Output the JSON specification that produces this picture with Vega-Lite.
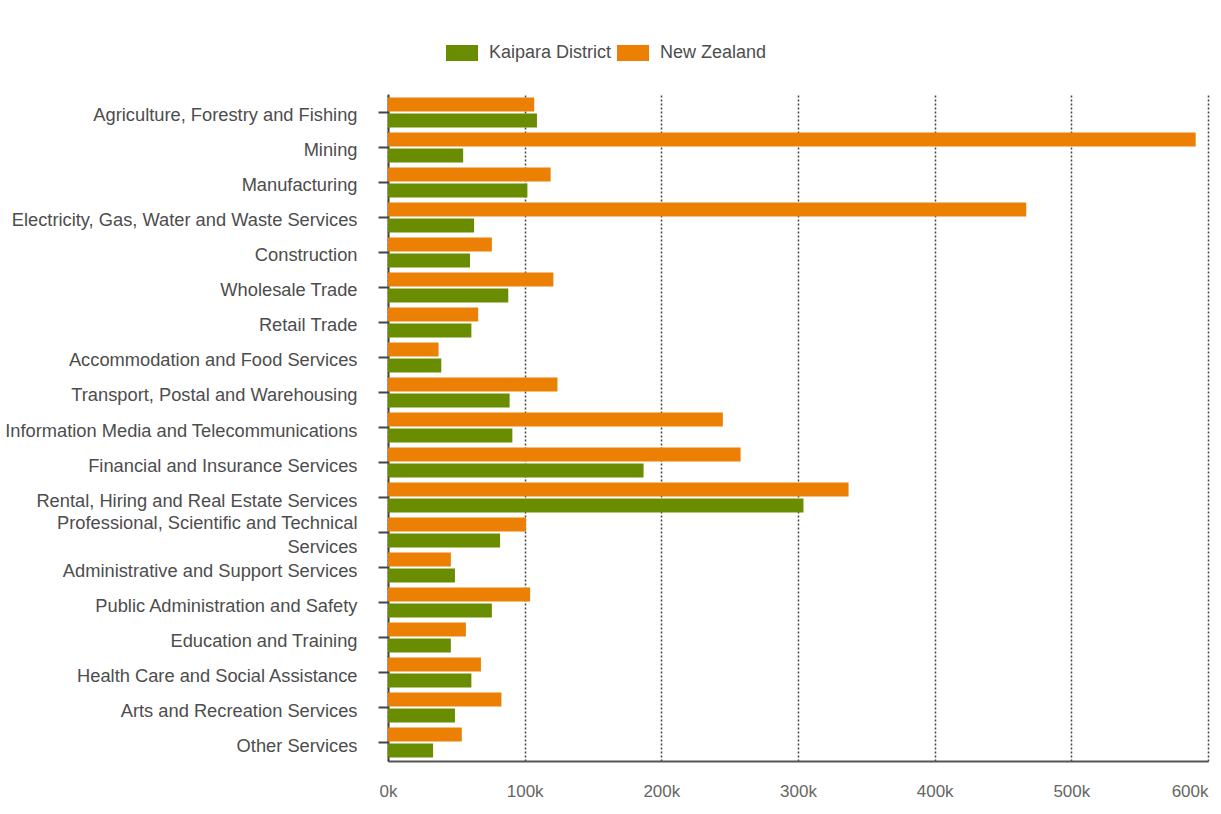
{
  "$schema": "https://vega.github.io/schema/vega-lite/v6.json",
  "autosize": "none",
  "width": 820,
  "height": 667,
  "padding": {"left": 388, "top": 94, "right": 13, "bottom": 53},
  "background": "white",
  "config": {
    "font": "Liberation Sans",
    "view": {"stroke": null}
  },
  "data": {
    "values": [
      {"industry": "Agriculture, Forestry and Fishing", "area": "New Zealand", "value": 107000},
      {"industry": "Agriculture, Forestry and Fishing", "area": "Kaipara District", "value": 109000},
      {"industry": "Mining", "area": "New Zealand", "value": 591000},
      {"industry": "Mining", "area": "Kaipara District", "value": 55000},
      {"industry": "Manufacturing", "area": "New Zealand", "value": 119000},
      {"industry": "Manufacturing", "area": "Kaipara District", "value": 102000},
      {"industry": "Electricity, Gas, Water and Waste Services", "area": "New Zealand", "value": 467000},
      {"industry": "Electricity, Gas, Water and Waste Services", "area": "Kaipara District", "value": 63000},
      {"industry": "Construction", "area": "New Zealand", "value": 76000},
      {"industry": "Construction", "area": "Kaipara District", "value": 60000},
      {"industry": "Wholesale Trade", "area": "New Zealand", "value": 121000},
      {"industry": "Wholesale Trade", "area": "Kaipara District", "value": 88000},
      {"industry": "Retail Trade", "area": "New Zealand", "value": 66000},
      {"industry": "Retail Trade", "area": "Kaipara District", "value": 61000},
      {"industry": "Accommodation and Food Services", "area": "New Zealand", "value": 37000},
      {"industry": "Accommodation and Food Services", "area": "Kaipara District", "value": 39000},
      {"industry": "Transport, Postal and Warehousing", "area": "New Zealand", "value": 124000},
      {"industry": "Transport, Postal and Warehousing", "area": "Kaipara District", "value": 89000},
      {"industry": "Information Media and Telecommunications", "area": "New Zealand", "value": 245000},
      {"industry": "Information Media and Telecommunications", "area": "Kaipara District", "value": 91000},
      {"industry": "Financial and Insurance Services", "area": "New Zealand", "value": 258000},
      {"industry": "Financial and Insurance Services", "area": "Kaipara District", "value": 187000},
      {"industry": "Rental, Hiring and Real Estate Services", "area": "New Zealand", "value": 337000},
      {"industry": "Rental, Hiring and Real Estate Services", "area": "Kaipara District", "value": 304000},
      {"industry": "Professional, Scientific and Technical Services", "area": "New Zealand", "value": 101000},
      {"industry": "Professional, Scientific and Technical Services", "area": "Kaipara District", "value": 82000},
      {"industry": "Administrative and Support Services", "area": "New Zealand", "value": 46000},
      {"industry": "Administrative and Support Services", "area": "Kaipara District", "value": 49000},
      {"industry": "Public Administration and Safety", "area": "New Zealand", "value": 104000},
      {"industry": "Public Administration and Safety", "area": "Kaipara District", "value": 76000},
      {"industry": "Education and Training", "area": "New Zealand", "value": 57000},
      {"industry": "Education and Training", "area": "Kaipara District", "value": 46000},
      {"industry": "Health Care and Social Assistance", "area": "New Zealand", "value": 68000},
      {"industry": "Health Care and Social Assistance", "area": "Kaipara District", "value": 61000},
      {"industry": "Arts and Recreation Services", "area": "New Zealand", "value": 83000},
      {"industry": "Arts and Recreation Services", "area": "Kaipara District", "value": 49000},
      {"industry": "Other Services", "area": "New Zealand", "value": 54000},
      {"industry": "Other Services", "area": "Kaipara District", "value": 33000}
    ]
  },
  "mark": {"type": "bar"},
  "encoding": {
    "y": {
      "field": "industry",
      "type": "nominal",
      "sort": null,
      "scale": {"paddingInner": 0.143, "paddingOuter": 0.1},
      "axis": {
        "title": null,
        "labelFontSize": 18.3,
        "labelColor": "#4d4d4d",
        "labelPadding": 21,
        "labelLimit": 0,
        "labelLineHeight": 24,
        "labelOffset": {"expr": "datum.label == 'Professional, Scientific and Technical Services' ? -9 : 4"},
        "labelExpr": "datum.label == 'Professional, Scientific and Technical Services' ? ['Professional, Scientific and Technical', 'Services'] : datum.label",
        "tickSize": 10,
        "tickWidth": 2,
        "tickColor": "#444444",
        "domainColor": "#444444",
        "domainWidth": 2,
        "grid": false
      }
    },
    "yOffset": {
      "field": "area",
      "type": "nominal",
      "sort": ["New Zealand", "Kaipara District"],
      "scale": {"paddingInner": 0.125, "paddingOuter": 0}
    },
    "x": {
      "field": "value",
      "type": "quantitative",
      "scale": {"domain": [0, 600000], "nice": false},
      "axis": {
        "title": null,
        "values": [0, 100000, 200000, 300000, 400000, 500000, 600000],
        "labelExpr": "(datum.value / 1000) + 'k'",
        "labelFontSize": 17,
        "labelColor": "#666666",
        "labelPadding": 22,
        "labelAlign": {"expr": "datum.value == 600000 ? 'right' : 'center'"},
        "labelFlush": false,
        "ticks": false,
        "domainColor": "#555555",
        "domainWidth": 2,
        "grid": true,
        "gridColor": "#444444",
        "gridDash": [2, 2],
        "gridWidth": 1.5
      }
    },
    "color": {
      "field": "area",
      "type": "nominal",
      "scale": {"domain": ["Kaipara District", "New Zealand"], "range": ["#6a8c00", "#eb8004"]},
      "legend": {
        "title": null,
        "orient": "none",
        "direction": "horizontal",
        "legendX": 65,
        "legendY": -50,
        "symbolType": "M-2,-1H2V1H-2Z",
        "symbolSize": 256,
        "symbolStrokeWidth": 0,
        "symbolOpacity": 1,
        "labelFontSize": 18,
        "labelColor": "#4d4d4d",
        "labelOffset": 18,
        "columnPadding": 5
      }
    }
  }
}
